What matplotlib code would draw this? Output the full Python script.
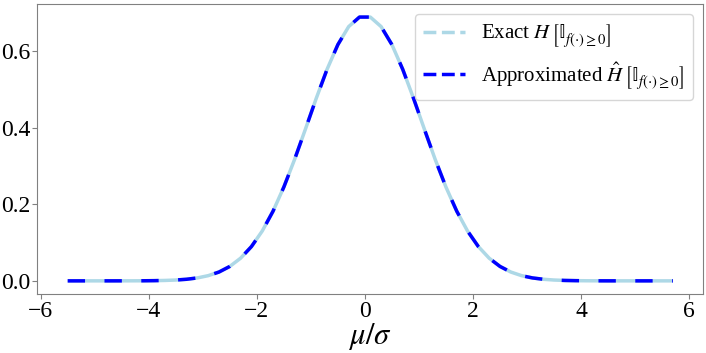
import matplotlib
matplotlib.use("Agg")
import matplotlib.pyplot as plt
from matplotlib.lines import Line2D

plt.rcParams['font.family'] = ['Liberation Serif', 'DejaVu Serif']
plt.rcParams['mathtext.fontset'] = 'stix'

# mu/sigma values (positive half, odd tenths) and entropy values
x_pos = [0.1, 0.3, 0.5, 0.7, 0.9, 1.1, 1.3, 1.5, 1.7, 1.9, 2.1, 2.3, 2.5, 2.7,
         2.9, 3.1, 3.3, 3.5, 3.7, 3.9, 4.1, 4.3, 4.5, 4.7, 4.9, 5.1, 5.3, 5.5, 5.7]
h_pos = [0.69000, 0.66508, 0.61792, 0.55333, 0.47749, 0.39702, 0.31800, 0.24531,
         0.18220, 0.13026, 0.08959, 0.05928, 0.03775, 0.02310, 0.01359, 0.00769,
         0.00417, 0.00218, 0.00109, 0.00053, 0.00024, 0.00011, 0.00005, 0.00002,
         0.0000075, 0.0000028, 0.0000010, 0.00000035, 0.00000012]

x_vals = [-v for v in x_pos[:-1][::-1]] + x_pos
h_exact = h_pos[:-1][::-1] + h_pos
h_approx = list(h_exact)

labels = [r'Exact $H\,\left[\mathrm{\mathbb{I}}^{\,}_{f(\cdot)\geq 0}\right]$',
          r'Approximated $\hat{H}\,\left[\mathrm{\mathbb{I}}^{\,}_{f(\cdot)\geq 0}\right]$']

fig = plt.figure(figsize=(7.06, 3.53), dpi=100)
ax = fig.add_axes([0.053, 0.167, 0.943, 0.822])

ax.plot(x_vals, h_exact, color='lightblue', lw=2.5, solid_capstyle='butt')
ax.plot(x_vals, h_approx, color='blue', lw=2.5, dashes=(5, 5.6))

for s in ax.spines.values():
    s.set_color('gray')
ax.tick_params(labelsize=17, color='gray', pad=1.5)
ax.set_xticks([-6, -4, -2, 0, 2, 4, 6])
ax.set_yticks([0.0, 0.2, 0.4, 0.6])
ax.set_xlabel(r'$\mu/\sigma$', fontsize=22, labelpad=-1)

handles = [Line2D([], [], color='lightblue', lw=2.5, ls='--'),
           Line2D([], [], color='blue', lw=2.5, ls='--')]
ax.legend(handles, labels, loc='upper right', fontsize=15)

fig.savefig('out.png', dpi=100)
